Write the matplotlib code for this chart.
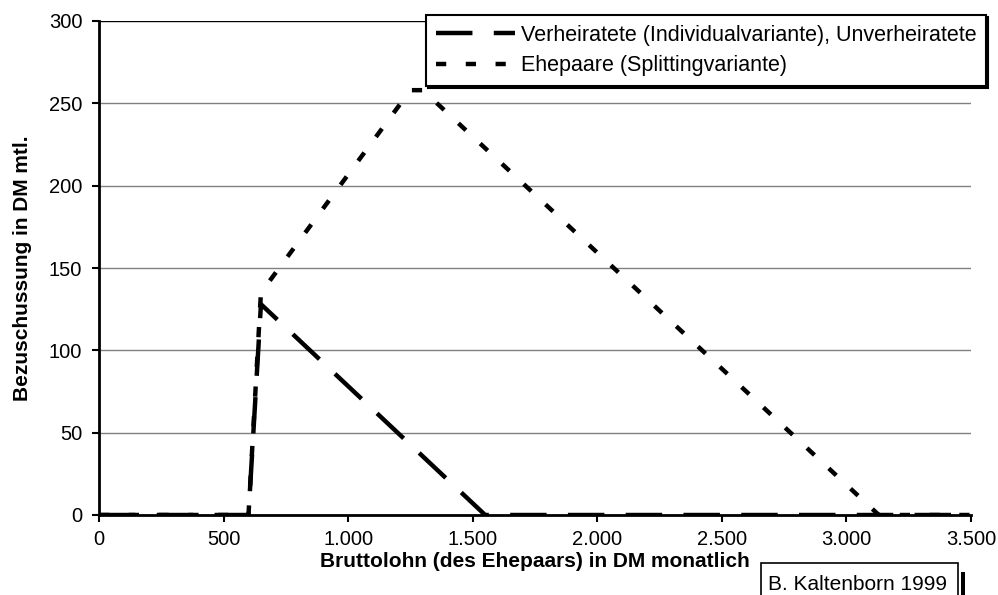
import matplotlib
matplotlib.use("Agg")
import matplotlib.pyplot as plt
from matplotlib.ticker import FuncFormatter
from matplotlib.patches import Rectangle

plt.rcParams['font.family'] = ['Liberation Sans', 'DejaVu Sans']

# Bruttolohn (DM monatlich) und Bezuschussung (DM mtl.)
lohn_indiv = [0, 600, 650, 1550, 3500]
zuschuss_indiv = [0, 0, 128, 0, 0]

lohn_split = [0, 600, 650, 1250, 1300, 3130, 3500]
zuschuss_split = [0, 0, 135, 258, 258, 0, 0]

label_indiv = "Verheiratete (Individualvariante), Unverheiratete"
label_split = "Ehepaare (Splittingvariante)"

W, H = 998, 595
fig = plt.figure(figsize=(W / 100, H / 100), dpi=100)
ax = fig.add_axes([99 / W, 80 / H, 872 / W, 494 / H])

for y in range(50, 301, 50):
    ax.axhline(y, color='#808080' if y < 300 else 'black', lw=1, zorder=0)

ax.plot(lohn_indiv, zuschuss_indiv, color='black', lw=3.2, dashes=(8.2, 4.8),
        label=label_indiv, dash_capstyle='butt')
ax.plot(lohn_split, zuschuss_split, color='black', lw=3.2, dashes=(2.3, 4.4),
        label=label_split, dash_capstyle='butt')

ax.set_xlim(0, 3500)
ax.set_ylim(0, 300)
ax.set_xticks(range(0, 3501, 500))
ax.set_yticks(range(0, 301, 50))
ax.xaxis.set_major_formatter(FuncFormatter(lambda v, p: f"{int(v):,}".replace(",", ".")))
ax.tick_params(direction='out', length=5, width=1.5, labelsize=14.5, colors='black')
ax.tick_params(axis='x', pad=6)
ax.tick_params(axis='y', pad=7)
ax.spines['right'].set_visible(False)
ax.spines['top'].set_visible(False)
ax.spines['left'].set_linewidth(2)
ax.spines['bottom'].set_linewidth(2)

ax.set_xlabel("Bruttolohn (des Ehepaars) in DM monatlich", fontsize=15,
              fontweight='bold', labelpad=2)
ax.set_ylabel("Bezuschussung in DM mtl.", fontsize=15, fontweight='bold',
              labelpad=12)

leg = ax.legend(loc='upper left', bbox_to_anchor=(426 / W, 1 - 15 / H),
                bbox_transform=fig.transFigure, borderaxespad=0, fontsize=15.5,
                frameon=True, fancybox=False, edgecolor='black',
                handlelength=3.7, borderpad=0.45, labelspacing=0.45,
                handletextpad=0.25, framealpha=1,
                shadow={'color': 'black', 'alpha': 1, 'ox': 1.5, 'oy': -1.5})
leg.get_frame().set_linewidth(1.5)

# Quellenangabe unten rechts
fig.patches.append(Rectangle((961 / W, -0.01), 4 / W, 29 / H, transform=fig.transFigure,
                             facecolor='black', edgecolor='none'))
fig.patches.append(Rectangle((761 / W, -0.01), 197 / W, 32 / H + 0.01,
                             transform=fig.transFigure, facecolor='white',
                             edgecolor='black', lw=1.2))
fig.text(768 / W, 5 / H, "B. Kaltenborn 1999", fontsize=15, va='baseline')

fig.savefig("out.png", dpi=100)
